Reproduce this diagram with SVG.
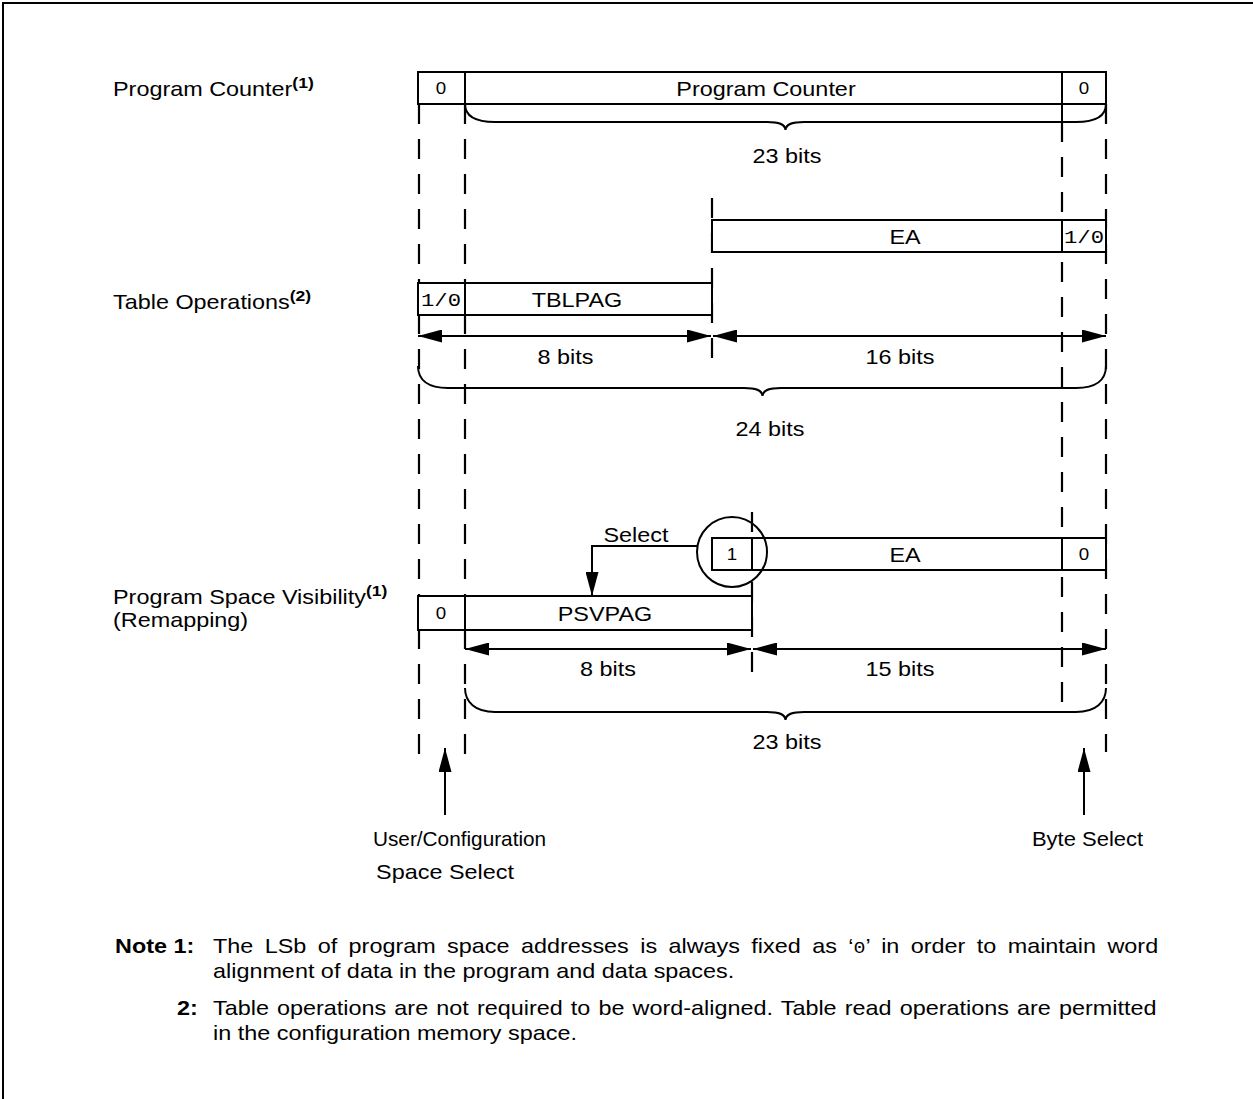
<svg xmlns="http://www.w3.org/2000/svg" width="1253" height="1099" viewBox="0 0 1253 1099">
<style>
.ln{stroke:#000;stroke-width:2;fill:none}
.bx{stroke:#000;stroke-width:2;fill:#fff}
.ds{stroke:#000;stroke-width:2.2;fill:none;stroke-dasharray:20 15}
.t{font-family:"Liberation Sans",Arial,sans-serif;font-size:20px;fill:#000}
.c{text-anchor:middle}
.s{font-family:"Liberation Sans",Arial,sans-serif;font-size:16px;fill:#000;text-anchor:middle}
.m{font-family:"Liberation Mono","Courier New",monospace;font-size:19px;fill:#000;text-anchor:middle}
.sup{font-size:15px;font-weight:bold}
.n{font-family:"Liberation Sans",Arial,sans-serif;font-size:20px;fill:#000}
.nb{font-weight:bold}
</style>
<defs>
<marker id="ah" markerUnits="userSpaceOnUse" markerWidth="24" markerHeight="13" viewBox="0 0 24 13" refX="24" refY="6.5" orient="auto-start-reverse">
<path d="M0,0 L24,6.5 L0,13 z" fill="#000"/>
</marker>
</defs>
<rect width="1253" height="1099" fill="#fff"/>
<path class="ln" d="M3,1099 V3 H1253" stroke-width="3"/>

<g id="guides">
<line class="ds" x1="419" y1="104" x2="419" y2="760"/>
<line class="ds" x1="465" y1="104" x2="465" y2="760"/>
<line class="ds" x1="1062" y1="122" x2="1062" y2="712"/>
<line class="ds" x1="1106" y1="104" x2="1106" y2="752"/>
<line class="ds" x1="712" y1="198" x2="712" y2="365"/>
<line class="ds" x1="752" y1="512" x2="752" y2="680"/>
</g>

<g id="pc-register">
<rect class="bx" x="418" y="72" width="688" height="32"/>
<line class="ln" x1="465" y1="72" x2="465" y2="104"/>
<line class="ln" x1="1062" y1="72" x2="1062" y2="122"/>
</g>

<g id="table-ea">
<rect class="bx" x="712" y="220" width="394" height="32"/>
<line class="ln" x1="1062" y1="220" x2="1062" y2="252"/>
</g>

<g id="tblpag">
<rect class="bx" x="418" y="283" width="294" height="32"/>
<line class="ln" x1="465" y1="283" x2="465" y2="315"/>
</g>

<g id="psv-ea">
<rect class="bx" x="712" y="538" width="394" height="32"/>
<line class="ln" x1="752" y1="538" x2="752" y2="570"/>
<line class="ln" x1="1062" y1="538" x2="1062" y2="570"/>
<circle class="ln" cx="732" cy="552" r="35"/>
</g>

<g id="psvpag">
<rect class="bx" x="418" y="596" width="334" height="34"/>
<line class="ln" x1="465" y1="596" x2="465" y2="630"/>
</g>

<g id="connectors">
<path class="ln" d="M465,104 C465,116 475,122 495,122 H767 C779,122 785,124 785.5,130 C786,124 792,122 804,122 H1076 C1096,122 1106,116 1106,104"/>
<path class="ln" d="M418,366 C418,380 428,388 448,388 H744 C756,388 762,390 762.5,396 C763,390 769,388 781,388 H1076 C1096,388 1106,380 1106,366"/>
<path class="ln" d="M465,688 C465,702 475,712 495,712 H767 C779,712 785,714 785.5,720 C786,714 792,712 804,712 H1076 C1096,712 1106,702 1106,688"/>
<line class="ln" x1="418" y1="336" x2="711" y2="336" marker-start="url(#ah)" marker-end="url(#ah)"/>
<line class="ln" x1="713" y1="336" x2="1106" y2="336" marker-start="url(#ah)" marker-end="url(#ah)"/>
<line class="ln" x1="465" y1="649" x2="751" y2="649" marker-start="url(#ah)" marker-end="url(#ah)"/>
<line class="ln" x1="753" y1="649" x2="1106" y2="649" marker-start="url(#ah)" marker-end="url(#ah)"/>
<path class="ln" d="M698,546 H592 V596" marker-end="url(#ah)"/>
<line class="ln" x1="445" y1="815" x2="445" y2="748" marker-end="url(#ah)"/>
<line class="ln" x1="1084" y1="815" x2="1084" y2="748" marker-end="url(#ah)"/>
</g>

<g id="texts" transform="scale(1.17 1)">
<text class="t" x="96.58" y="96">Program Counter<tspan class="sup" dy="-8">(1)</tspan></text>
<text class="t" x="96.58" y="309">Table Operations<tspan class="sup" dy="-8">(2)</tspan></text>
<text class="t" x="96.58" y="604">Program Space Visibility<tspan class="sup" dy="-8">(1)</tspan></text>
<text class="t" x="96.58" y="627">(Remapping)</text>

<text class="s" x="376.92" y="94">0</text>
<text class="t c" x="654.70" y="96">Program Counter</text>
<text class="s" x="926.50" y="94">0</text>

<text class="t c" x="773.50" y="244">EA</text>
<text class="m" x="926.50" y="243">1/0</text>
<text class="m" x="376.92" y="306">1/0</text>
<text class="t c" x="493.16" y="307">TBLPAG</text>

<text class="s" x="625.64" y="560">1</text>
<text class="t c" x="773.50" y="562">EA</text>
<text class="s" x="926.50" y="560">0</text>
<text class="s" x="376.92" y="619">0</text>
<text class="t c" x="517.09" y="621">PSVPAG</text>

<text class="t c" x="672.65" y="163">23 bits</text>
<text class="t c" x="483.33" y="364">8 bits</text>
<text class="t c" x="769.23" y="364">16 bits</text>
<text class="t c" x="658.12" y="436">24 bits</text>
<text class="t c" x="543.59" y="542">Select</text>
<text class="t c" x="519.66" y="676">8 bits</text>
<text class="t c" x="769.23" y="676">15 bits</text>
<text class="t c" x="672.65" y="749">23 bits</text>
<text class="t" x="318.8" y="846" textLength="148" lengthAdjust="spacingAndGlyphs">User/Configuration</text>
<text class="t c" x="380.34" y="879">Space Select</text>
<text class="t" x="882" y="846" textLength="95" lengthAdjust="spacingAndGlyphs">Byte Select</text>

<text class="n nb" x="98.29" y="953">Note 1:</text>
<text class="n" x="182.05" y="953" word-spacing="4.2">The LSb of program space addresses is always fixed as ‘<tspan font-family="Liberation Mono, monospace" font-size="17">0</tspan>’ in order to maintain word</text>
<text class="n" x="182.05" y="978">alignment of data in the program and data spaces.</text>
<text class="n nb" x="151.28" y="1015">2:</text>
<text class="n" x="182.05" y="1015" word-spacing="1.4">Table operations are not required to be word-aligned. Table read operations are permitted</text>
<text class="n" x="182.05" y="1040">in the configuration memory space.</text>
</g>
</svg>
